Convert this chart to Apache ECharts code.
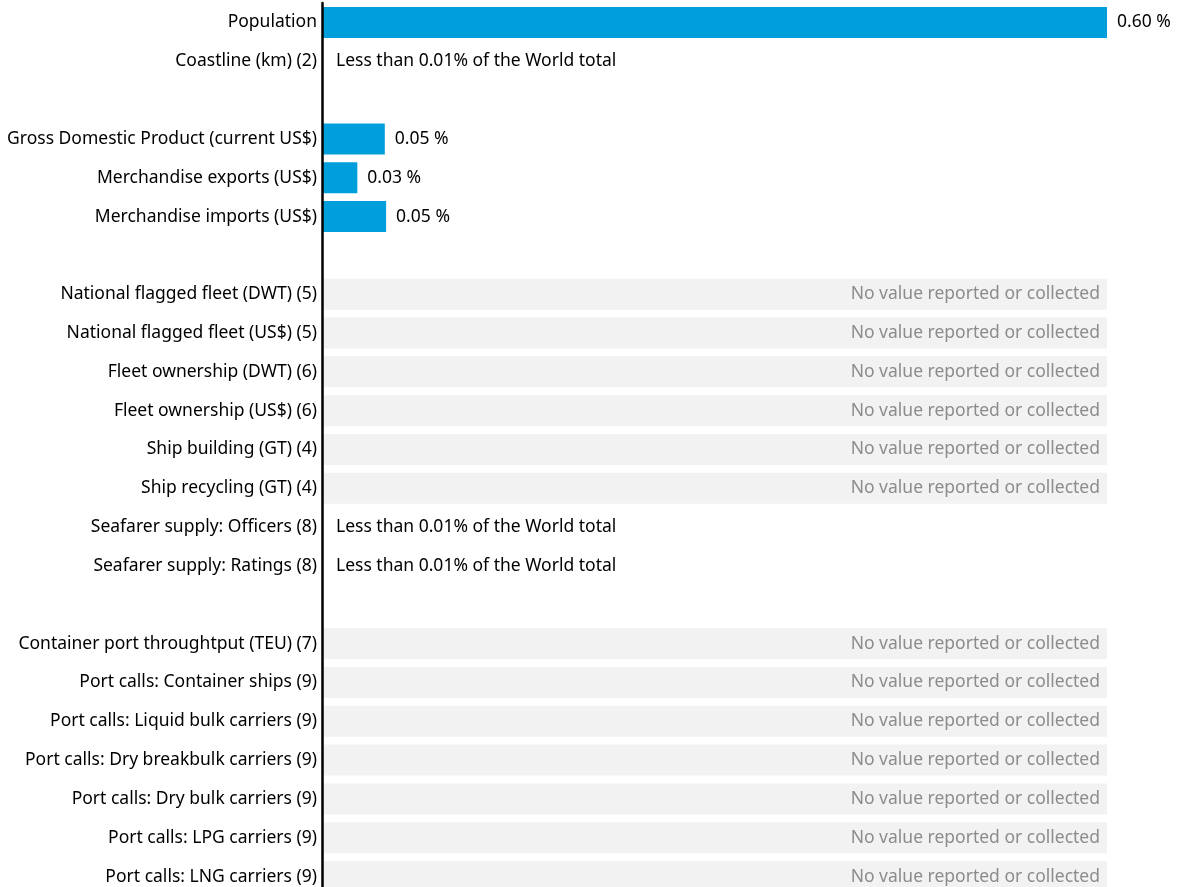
<!DOCTYPE html>
<html>
<head>
<meta charset="utf-8">
<script src="https://cdn.jsdelivr.net/npm/echarts@6/dist/echarts.min.js"></script>
<style>html,body{margin:0;padding:0;background:#fff;}#c{width:1181px;height:887px;}</style>
</head>
<body>
<div id="c"></div>
<script>
const categories = [
  "Population", "Coastline (km) (2)", "",
  "Gross Domestic Product (current US$)", "Merchandise exports (US$)", "Merchandise imports (US$)", " ",
  "National flagged fleet (DWT) (5)", "National flagged fleet (US$) (5)", "Fleet ownership (DWT) (6)",
  "Fleet ownership (US$) (6)", "Ship building (GT) (4)", "Ship recycling (GT) (4)",
  "Seafarer supply: Officers (8)", "Seafarer supply: Ratings (8)", "  ",
  "Container port throughtput (TEU) (7)", "Port calls: Container ships (9)", "Port calls: Liquid bulk carriers (9)",
  "Port calls: Dry breakbulk carriers (9)", "Port calls: Dry bulk carriers (9)", "Port calls: LPG carriers (9)",
  "Port calls: LNG carriers (9)"
];
// share of world total (%), null where not a numeric value
const shareValues = [0.60, null, null, 0.048, 0.027, 0.049, null,
  null, null, null, null, null, null, null, null, null,
  null, null, null, null, null, null, null];
// row status: v = value, less = less than 0.01%, none = no value, blank = spacer
const rowStatus = ["v", "less", "blank", "v", "v", "v", "blank",
  "none", "none", "none", "none", "none", "none", "less", "less", "blank",
  "none", "none", "none", "none", "none", "none", "none"];
const axisMax = 0.60;
const lessText = "Less than 0.01% of the World total";
const noneText = "No value reported or collected";

const FONT = "Noto Sans";
const FS = 17.5;
const chart = echarts.init(document.getElementById('c'), null, {renderer: 'canvas'});
const noneData = rowStatus.map(s => s === "none" ? axisMax : null);
const lessData = rowStatus.map(s => s === "less" ? 0 : null);

chart.setOption({
  animation: false,
  grid: {left: 322, right: 74, top: 3, height: 893, containLabel: false, outerBoundsMode: 'none'},
  xAxis: {type: 'value', min: 0, max: axisMax, show: false},
  yAxis: {
    type: 'category', data: categories, inverse: true, z: 10,
    axisLine: {show: true, lineStyle: {color: '#000', width: 2.5}},
    axisTick: {show: false},
    axisLabel: {color: '#000', fontFamily: FONT, fontSize: FS, margin: 5, interval: 0, padding: [3, 0, 0, 0]}
  },
  series: [
    {
      type: 'bar', data: noneData, barWidth: 31, barGap: '-100%',
      itemStyle: {color: '#f2f2f2'},
      label: {show: true, position: 'insideRight', distance: 7, formatter: noneText,
        color: '#8c8c8c', fontFamily: FONT, fontSize: FS}
    },
    {
      type: 'bar', data: shareValues, barWidth: 31, barGap: '-100%',
      itemStyle: {color: '#009edb'},
      label: {show: true, position: 'right', distance: 10,
        formatter: p => p.value.toFixed(2) + ' %',
        color: '#000', fontFamily: FONT, fontSize: FS}
    },
    {
      type: 'bar', data: lessData, barWidth: 31, barGap: '-100%',
      itemStyle: {color: '#009edb'},
      label: {show: true, position: 'right', distance: 14, formatter: lessText,
        color: '#000', fontFamily: FONT, fontSize: FS}
    }
  ]
});
</script>
</body>
</html>
